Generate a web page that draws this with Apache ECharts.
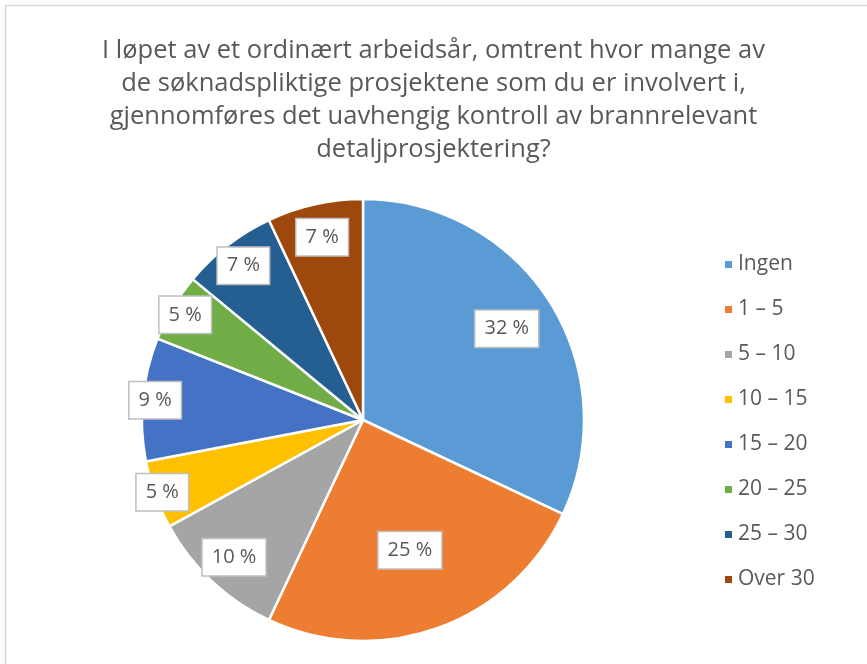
<!DOCTYPE html>
<html>
<head>
<meta charset="utf-8">
<script src="https://cdn.jsdelivr.net/npm/echarts@6/dist/echarts.min.js"></script>
<style>
  html, body { margin: 0; padding: 0; background: #fff; }
  #chart { width: 867px; height: 664px; }
</style>
</head>
<body>
<div id="chart"></div>
<script>
var myChart = echarts.init(document.getElementById('chart'));

// data
let categories = ['Ingen', '1 – 5', '5 – 10', '10 – 15', '15 – 20', '20 – 25', '25 – 30', 'Over 30']
let percents = [32, 25, 10, 5, 9, 5, 7, 7]
let colors = ['#5B9BD5', '#ED7D31', '#A5A5A5', '#FFC000', '#4472C4', '#70AD47', '#255E91', '#9E480E']

// how far out from the centre each label sits (Excel "best fit" look)
let labelPush = [1.5, 1.22, 1.66, 1.88, 1.84, 1.82, 1.72, 1.65]

let titleText = 'I løpet av et ordinært arbeidsår, omtrent hvor mange av\nde søknadspliktige prosjektene som du er involvert i,\ngjennomføres det uavhengig kontroll av brannrelevant\ndetaljprosjektering?'

const cx = 363
const cy = 420
const font = '"Open Sans", Lato, sans-serif'

let pieData = categories.map((name, i) => ({
  name: name,
  value: percents[i],
  itemStyle: { color: colors[i] }
}))

let option = {
  animation: false,
  title: {
    text: titleText,
    left: 'center',
    top: 29,
    textStyle: {
      fontFamily: font,
      fontSize: 25.5,
      fontWeight: 'normal',
      color: '#595959',
      lineHeight: 33
    }
  },
  legend: {
    orient: 'vertical',
    left: 718,
    top: 249,
    icon: 'rect',
    itemWidth: 9,
    itemHeight: 9,
    itemGap: 24,
    textStyle: {
      fontFamily: font,
      fontSize: 21,
      color: '#595959'
    },
    data: categories
  },
  graphic: [{
    type: 'rect',
    shape: { x: 5.5, y: 5.5, width: 900, height: 700 },
    style: { fill: 'none', stroke: '#d9d9d9', lineWidth: 1.5 }
  }],
  series: [{
    type: 'pie',
    center: [cx, cy],
    radius: [0, 221],
    startAngle: 90,
    clockwise: true,
    data: pieData,
    itemStyle: { borderColor: '#fff', borderWidth: 2.5 },
    emphasis: { disabled: true },
    label: {
      show: true,
      position: 'inside',
      formatter: p => p.value + ' %',
      fontFamily: font,
      fontSize: 20,
      lineHeight: 22,
      color: '#595959',
      backgroundColor: '#fff',
      borderColor: '#bfbfbf',
      borderWidth: 1.5,
      padding: [7, 9, 7, 9]
    },
    labelLine: { show: false },
    labelLayout: function (params) {
      let r = params.labelRect
      let mx = r.x + r.width / 2
      let my = r.y + r.height / 2
      let k = labelPush[params.dataIndex]
      return {
        x: cx + (mx - cx) * k,
        y: cy + (my - cy) * k,
        align: 'center',
        verticalAlign: 'middle'
      }
    }
  }]
}

myChart.setOption(option)
</script>
</body>
</html>
